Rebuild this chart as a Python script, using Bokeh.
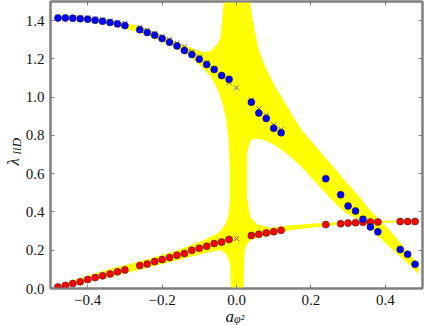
import math
from bokeh.plotting import figure
from bokeh.models import Range1d, LinearAxis, FixedTicker, Label
from bokeh.embed import file_html
from bokeh.resources import INLINE

# ---- data ----
x_pts = [-0.48, -0.46, -0.44, -0.42, -0.40, -0.38, -0.36, -0.34, -0.32, -0.30,
         -0.26, -0.24, -0.22, -0.20, -0.18, -0.16, -0.14, -0.12, -0.10, -0.08,
         -0.06, -0.04, -0.02, 0.04, 0.06, 0.08, 0.10, 0.12, 0.24,
         0.28, 0.30, 0.32, 0.34, 0.36, 0.38, 0.44, 0.46, 0.48]
blue_vals = [1.414, 1.414, 1.413, 1.410, 1.407, 1.402, 1.397, 1.390, 1.383, 1.374,
             1.353, 1.338, 1.324, 1.306, 1.287, 1.268, 1.244, 1.223, 1.198, 1.171,
             1.145, 1.113, 1.093, 0.974, 0.917, 0.889, 0.838, 0.814, 0.574,
             0.490, 0.431, 0.405, 0.362, 0.322, 0.296, 0.204, 0.179, 0.127]
red_vals = [0.008, 0.016, 0.026, 0.035, 0.047, 0.057, 0.066, 0.076, 0.087, 0.097,
            0.120, 0.128, 0.141, 0.151, 0.162, 0.174, 0.183, 0.200, 0.210, 0.221,
            0.235, 0.243, 0.256, 0.277, 0.283, 0.290, 0.297, 0.304, 0.334,
            0.339, 0.342, 0.344, 0.346, 0.348, 0.348, 0.350, 0.350, 0.350]

cross_x = [-0.48, -0.46, -0.44, -0.42, -0.40, -0.38, -0.36, -0.34, -0.32, -0.30,
           -0.26, -0.24, -0.22, -0.20, -0.18, -0.16, -0.14, -0.12, -0.10, -0.08,
           -0.06, -0.04, -0.02, 0.0, 0.04, 0.06, 0.08, 0.10, 0.12]
blue_cross = [1.416, 1.416, 1.416, 1.414, 1.415, 1.410, 1.405, 1.398, 1.392, 1.386,
              1.365, 1.350, 1.334, 1.318, 1.301, 1.282, 1.263, 1.238, 1.210, 1.180,
              1.148, 1.112, 1.077, 1.049, 0.985, 0.939, 0.904, 0.856, 0.830]
red_cross = [0.008, 0.016, 0.026, 0.035, 0.047, 0.057, 0.066, 0.076, 0.087, 0.097,
             0.120, 0.128, 0.141, 0.151, 0.162, 0.174, 0.183, 0.200, 0.210, 0.221,
             0.235, 0.243, 0.256, 0.261, 0.277, 0.283, 0.290, 0.297, 0.304]

# uncertainty band (yellow), upper branch, a < 0
u1_x = [-0.49, -0.42, -0.34, -0.26, -0.20, -0.16, -0.12, -0.09, -0.07, -0.052,
        -0.043, -0.038, -0.034, -0.029, -0.021, -0.017]
u1_hi = [1.420, 1.420, 1.402, 1.372, 1.322, 1.288, 1.256, 1.236, 1.240, 1.275,
         1.313, 1.418, 1.500, 1.500, 1.500, 1.500]
u1_lo = [1.410, 1.402, 1.380, 1.338, 1.290, 1.255, 1.205, 1.150, 1.110, 1.045,
         1.000, 0.970, 0.940, 0.896, 0.774, 0.600]
# upper branch, a > 0
u2_x = [0.027, 0.037, 0.042, 0.051, 0.060, 0.078, 0.100, 0.127, 0.153, 0.178,
        0.222, 0.268, 0.295, 0.330, 0.359, 0.380, 0.412, 0.450, 0.490]
u2_hi = [1.500, 1.500, 1.418, 1.331, 1.244, 1.157, 1.070, 0.983, 0.896, 0.820,
         0.722, 0.618, 0.556, 0.480, 0.409, 0.367, 0.304, 0.215, 0.120]
u2_lo = [0.700, 0.770, 0.778, 0.783, 0.783, 0.773, 0.752, 0.716, 0.675, 0.628,
         0.535, 0.440, 0.393, 0.360, 0.315, 0.275, 0.215, 0.150, 0.075]
# lower branch, a < 0
l1_x = [-0.49, -0.42, -0.337, -0.248, -0.159, -0.088, -0.052, -0.043, -0.029,
        -0.021, -0.017]
l1_hi = [0.012, 0.055, 0.104, 0.148, 0.200, 0.252, 0.287, 0.300, 0.339, 0.391, 0.470]
l1_lo = [0.002, 0.025, 0.061, 0.104, 0.148, 0.183, 0.198, 0.200, 0.183, 0.150, 0.120]
# lower branch, a > 0
l2_x = [0.019, 0.030, 0.037, 0.055, 0.091, 0.145, 0.200, 0.260, 0.320, 0.400, 0.490]
l2_hi = [0.500, 0.460, 0.374, 0.336, 0.318, 0.330, 0.338, 0.345, 0.350, 0.354, 0.357]
l2_lo = [0.200, 0.235, 0.252, 0.265, 0.280, 0.304, 0.318, 0.330, 0.338, 0.343, 0.346]
# vertical strip around the pole at a = 0
strip_y = [0.0, 0.13, 0.20, 0.46, 0.72, 1.00, 1.50]
strip_x1 = [-0.015, -0.017, -0.018, -0.018, -0.018, -0.019, -0.020]
strip_x2 = [0.019, 0.020, 0.022, 0.028, 0.028, 0.030, 0.030]

x_ticks = [-0.4, -0.2, 0.0, 0.2, 0.4]
x_tick_labels = ["\u22120.4", "\u22120.2", "0.0", "0.2", "0.4"]
y_ticks = [0.0, 0.2, 0.4, 0.6, 0.8, 1.0, 1.2, 1.4]
y_tick_labels = ["0.0", "0.2", "0.4", "0.6", "0.8", "1.0", "1.2", "1.4"]

FONT = "Liberation Serif"
SPINE = "#808080"

# left border is wide enough for the axis and all title pieces; the canvas is
# shifted left so that the frame starts 50px from the window edge
LEFT = 100
p = figure(width=LEFT + 372 + 2, height=325, x_range=Range1d(-0.5, 0.5), y_range=Range1d(0, 1.5),
           output_backend="svg", toolbar_location=None,
           min_border_left=LEFT, min_border_right=2, min_border_top=1, min_border_bottom=37)
p.styles = {"margin-left": f"{50 - LEFT}px"}
p.grid.visible = False
p.background_fill_color = "white"
p.border_fill_color = "white"
p.outline_line_color = SPINE
p.outline_line_width = 2

# yellow band
YEL = "#ffff00"
p.varea(x=u1_x, y1=u1_lo, y2=u1_hi, fill_color=YEL)
p.varea(x=u2_x, y1=u2_lo, y2=u2_hi, fill_color=YEL)
p.varea(x=l1_x, y1=l1_lo, y2=l1_hi, fill_color=YEL)
p.varea(x=l2_x, y1=l2_lo, y2=l2_hi, fill_color=YEL)
p.harea(y=strip_y, x1=strip_x1, x2=strip_x2, fill_color=YEL)

# crosses
p.scatter(cross_x, red_cross, marker="x", size=7, line_color="#ff3a1a", line_width=1)
p.scatter(cross_x, blue_cross, marker="x", size=7, line_color="#5a5aa8", line_width=1)
# dots
p.scatter(x_pts, red_vals, size=7, fill_color="#ff0000", line_color="#3a2020", line_width=0.6)
p.scatter(x_pts, blue_vals, size=7, fill_color="#0000ff", line_color="#202040", line_width=0.6)


def style_axis(ax, ticks, labels, show):
    ax.ticker = FixedTicker(ticks=ticks, minor_ticks=[])
    if show:
        ax.major_label_overrides = dict(zip(ticks, labels))
        ax.major_label_text_font = FONT
        ax.major_label_text_font_size = "15px"
        ax.major_label_text_color = "#111111"
    else:
        ax.major_label_overrides = {t: "" for t in ticks}
        ax.major_label_text_font_size = "0px"
        ax.major_label_standoff = 0
    ax.major_tick_in = 4
    ax.major_tick_out = 0
    ax.minor_tick_in = 0
    ax.minor_tick_out = 0
    ax.major_tick_line_color = SPINE
    ax.major_tick_line_width = 1
    ax.axis_line_color = SPINE
    ax.axis_line_width = 2


style_axis(p.xaxis[0], x_ticks, x_tick_labels, True)
style_axis(p.yaxis[0], y_ticks, y_tick_labels, True)
p.xaxis[0].major_label_standoff = 6
p.yaxis[0].major_label_standoff = 6

top = LinearAxis()
style_axis(top, x_ticks, x_tick_labels, False)
p.add_layout(top, "above")
right = LinearAxis()
style_axis(right, y_ticks, y_tick_labels, False)
p.add_layout(right, "right")

# axis titles (kept in the left side panel so they are not clipped by the frame)
lab_kw = dict(text_font=FONT, text_font_style="italic", text_color="#111111",
              text_align="left", text_baseline="alphabetic")
p.add_layout(Label(x=-0.5, y=0, x_offset=-37.5, y_offset=123, angle=math.pi / 2,
                   text="\u03bb", text_font_size="17px", **lab_kw), "left")
p.add_layout(Label(x=-0.5, y=0, x_offset=-34.5, y_offset=134, angle=math.pi / 2,
                   text="iiD", text_font_size="13px", **lab_kw), "left")
p.add_layout(Label(x=0, y=0, x_offset=-11, y_offset=-28,
                   text="a", text_font_size="17px", **lab_kw), "left")
p.add_layout(Label(x=0, y=0, x_offset=-2.5, y_offset=-30,
                   text="\u03c6\u00b2", text_font_size="12px", **lab_kw), "left")

open("out.html", "w").write(file_html(p, INLINE))
